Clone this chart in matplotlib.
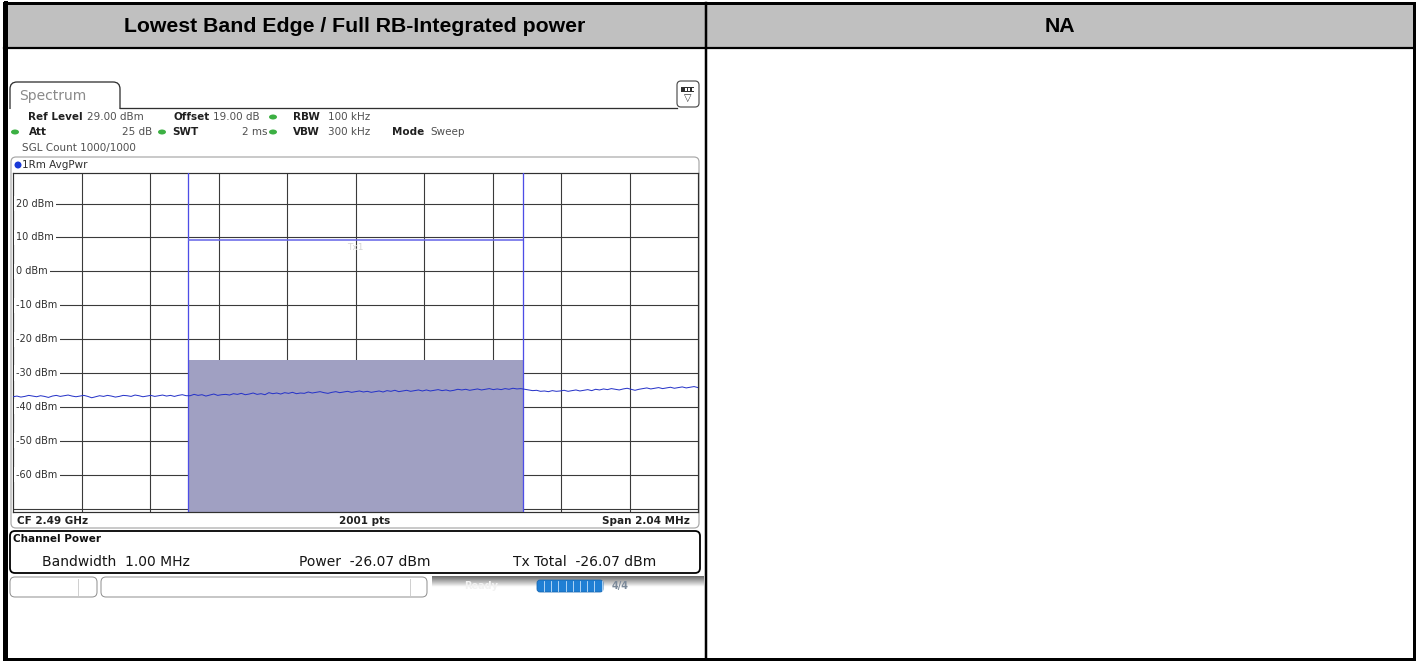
import numpy as np
import matplotlib
matplotlib.use("Agg")
import matplotlib.pyplot as plt
from matplotlib.patches import Rectangle, FancyBboxPatch, Ellipse

# ---------------- data ----------------
header_left = "Lowest Band Edge / Full RB-Integrated power"
header_right = "NA"

ref_level = 29.00
offset_db = 19.00
rbw = "100 kHz"
vbw = "300 kHz"
att = "25 dB"
swt = "2 ms"
sgl_count = "1000/1000"
center_freq = "CF 2.49 GHz"
sweep_points = "2001 pts"
span_mhz = 2.04
bandwidth_mhz = 1.00
channel_power = -26.07
tx_total = -26.07
tx_limit_level = 9.2

level_ticks = [20, 10, 0, -10, -20, -30, -40, -50, -60]
grid_levels = [20, 10, 0, -10, -20, -30, -40, -50, -60, -70]
y_bottom = -71

trace_left = [-37.0, -36.8, -37.1, -36.9, -36.6, -36.8, -37.0, -36.7, -36.9, -37.2,
              -36.8, -36.6, -36.9, -36.7, -36.5, -36.8, -37.0, -36.8, -36.6, -36.9,
              -37.3, -37.0, -36.7, -36.9, -36.6, -36.8, -37.1, -36.9, -36.6, -36.7,
              -36.9, -36.5, -36.7, -37.0, -36.8, -36.6, -36.9, -36.7, -36.5, -36.8,
              -36.6, -36.9, -36.6, -36.4, -36.7]
trace_mid = [-36.7, -36.3, -36.6, -36.4, -36.8, -36.5, -36.2, -36.6, -36.4, -36.3,
             -36.5, -36.1, -36.3, -36.0, -36.4, -36.2, -35.9, -36.3, -36.1, -36.4,
             -35.8, -36.1, -35.9, -36.2, -35.8, -36.0, -35.7, -36.1, -35.9, -36.0,
             -35.6, -35.9, -35.7, -35.5, -35.8, -36.0, -35.7, -35.5, -35.8, -35.6,
             -35.4, -35.7, -35.5, -35.3, -35.6, -35.4, -35.7, -35.5, -35.3, -35.6,
             -35.2, -35.4, -35.1, -35.5, -35.3, -35.1, -35.4, -35.2, -35.0, -35.3,
             -35.0, -35.3, -35.1, -34.9, -35.2, -35.0, -35.3, -35.1, -34.8, -35.0,
             -34.8, -35.1, -34.9, -34.7, -35.0, -34.8, -34.6, -34.9, -34.7, -34.9,
             -34.6, -34.8, -34.5, -34.7, -34.6]
trace_right = [-34.8, -35.0, -35.2, -35.1, -35.4, -35.3, -35.5, -35.2, -35.4, -35.3,
               -35.1, -35.4, -35.2, -35.0, -35.3, -35.1, -34.9, -35.2, -34.8, -35.0,
               -34.7, -34.9, -34.6, -34.8, -35.0, -34.7, -34.5, -34.8, -35.1, -34.8,
               -34.6, -34.4, -34.7, -34.5, -34.3, -34.6, -34.4, -34.2, -34.5, -34.3,
               -34.1, -34.4, -34.2, -34.0, -34.3]

# ---------------- figure ----------------
W, H = 1418, 662
fig = plt.figure(figsize=(W / 100, H / 100), dpi=100)
bg = fig.add_axes([0, 0, 1, 1])
bg.set_xlim(0, W)
bg.set_ylim(H, 0)
bg.axis("off")
PX = 0.72  # points per pixel

# table
bg.add_patch(Rectangle((4, 3), W - 8, 45, facecolor="#c0c0c0", edgecolor="none", zorder=0))
bg.add_patch(Rectangle((4, 3), W - 8, H - 6, facecolor="none", edgecolor="black",
                       lw=3 * PX, zorder=10))
bg.plot([5.5, 5.5], [3, H - 3], color="black", lw=4 * PX, zorder=10)
bg.plot([4, W - 4], [48, 48], color="black", lw=2.2 * PX, zorder=10)
bg.plot([706, 706], [3, H - 3], color="black", lw=2.5 * PX, zorder=10)
bg.text(355, 26, header_left, ha="center", va="center", fontsize=15.3,
        fontweight="bold", family="Liberation Sans", color="black")
bg.text(1060, 26, header_right, ha="center", va="center", fontsize=15.3,
        fontweight="bold", family="Liberation Sans", color="black")

# ----- screenshot chrome -----
fs = 7.5
dark = "#202020"
mid = "#505050"
green = "#3cb043"

# tab
bg.add_patch(FancyBboxPatch((10, 82), 110, 34, boxstyle="round,pad=0,rounding_size=7",
                            facecolor="white", edgecolor="#303030", lw=1.3 * PX, zorder=2))
bg.add_patch(Rectangle((8, 108.6), 120, 10, facecolor="white", edgecolor="none", zorder=3))
bg.plot([120, 677], [108, 108], color="#303030", lw=1.3 * PX, zorder=3)
bg.text(19, 96, "Spectrum", fontsize=10, color="#8a8a8a", va="center", ha="left", zorder=4)

# icon top right
bg.add_patch(FancyBboxPatch((677, 81), 22, 26, boxstyle="round,pad=0,rounding_size=4",
                            facecolor="white", edgecolor="#505050", lw=1.2 * PX, zorder=4))
bg.add_patch(Rectangle((681, 87), 13, 5, facecolor="#303030", edgecolor="none", zorder=5))
for xx in (684.5, 688, 691.5):
    bg.add_patch(Rectangle((xx, 88.2), 2, 2.6, facecolor="white", edgecolor="none", zorder=6))
bg.text(687.5, 98, "▽", fontsize=7, ha="center", va="center", color="#303030", zorder=6)

# info lines
def t(x, y, s, bold=False, ha="left", color=None, size=fs):
    bg.text(x, y, s, fontsize=size, ha=ha, va="center",
            fontweight="bold" if bold else "normal",
            color=color if color else (dark if bold else mid), zorder=5)

def dot(x, y, c=green, w=8, h=5):
    bg.add_patch(Ellipse((x, y), w, h, facecolor=c, edgecolor="none", zorder=5))

t(28, 117, "Ref Level", bold=True)
t(87, 117, f"{ref_level:.2f} dBm")
t(173, 117, "Offset", bold=True)
t(213, 117, f"{offset_db:.2f} dB")
dot(273, 117)
t(293, 117, "RBW", bold=True)
t(328, 117, rbw)

dot(15, 132)
t(29, 132, "Att", bold=True)
t(152, 132, att, ha="right")
dot(162, 132)
t(172, 132, "SWT", bold=True)
t(267, 132, swt, ha="right")
dot(273, 132)
t(293, 132, "VBW", bold=True)
t(328, 132, vbw)
t(392, 132, "Mode", bold=True)
t(430, 132, "Sweep")

t(22, 148, f"SGL Count {sgl_count}")

# trace box
bg.add_patch(FancyBboxPatch((11, 157), 688, 371, boxstyle="round,pad=0,rounding_size=5",
                            facecolor="white", edgecolor="#a8a8a8", lw=1.2 * PX, zorder=1))
dot(18, 165, c="#1a3ad8", w=7, h=7)
t(22, 165, "1Rm AvgPwr", color="#303030")

# bottom strip
t(17, 521, center_freq, bold=True)
t(365, 521, sweep_points, bold=True, ha="center")
t(690, 521, f"Span {span_mhz:.2f} MHz", bold=True, ha="right")

# channel power box
bg.add_patch(FancyBboxPatch((10, 531), 690, 42, boxstyle="round,pad=0,rounding_size=5",
                            facecolor="white", edgecolor="black", lw=1.8 * PX, zorder=2))
t(13, 539, "Channel Power", bold=True, color="#101010")
t(42, 562, f"Bandwidth  {bandwidth_mhz:.2f} MHz", color="#151515", size=10)
t(299, 562, f"Power  {channel_power:.2f} dBm", color="#151515", size=10)
t(513, 562, f"Tx Total  {tx_total:.2f} dBm", color="#151515", size=10)

# status bar
grad = np.clip(np.linspace(0.42, 1.6, 40), 0, 1)[:, None] * np.ones((1, 10))
bg.imshow(grad, cmap="gray", vmin=0, vmax=1.0, extent=[432, 704, 598, 576],
          aspect="auto", zorder=1, interpolation="bilinear")
bg.add_patch(FancyBboxPatch((10, 577), 87, 20, boxstyle="round,pad=0,rounding_size=5",
                            facecolor="white", edgecolor="#909090", lw=1 * PX, zorder=2))
bg.plot([78, 78], [579, 595], color="#d0d0d0", lw=1 * PX, zorder=3)
bg.add_patch(FancyBboxPatch((101, 577), 326, 20, boxstyle="round,pad=0,rounding_size=5",
                            facecolor="white", edgecolor="#909090", lw=1 * PX, zorder=2))
bg.plot([410, 410], [579, 595], color="#d0d0d0", lw=1 * PX, zorder=3)
t(481, 586, "Ready", bold=True, color="#f2f2f2", ha="center", size=7)
bg.add_patch(FancyBboxPatch((537, 580), 66, 12, boxstyle="round,pad=0,rounding_size=3",
                            facecolor="#1f7fd4", edgecolor="#1766b0", lw=0.8 * PX, zorder=3))
for xx in np.arange(544, 603, 7.2):
    bg.plot([xx, xx], [581, 591], color="#cfe6fb", lw=0.8 * PX, zorder=4)
t(620, 586, "4/4", bold=True, color="#7a8898", ha="center", size=7)

# ----- spectrum axes -----
x0, x1, y0, y1 = 13, 698, 173, 512
ax = fig.add_axes([x0 / W, 1 - y1 / H, (x1 - x0) / W, (y1 - y0) / H])
half = span_mhz / 2
ax.set_xlim(-half, half)
ax.set_ylim(y_bottom, ref_level)
ax.set_xticks([])
ax.set_yticks([])
for s in ax.spines.values():
    s.set_color("#303030")
    s.set_linewidth(1.2 * PX)

gcol = "#3a3a3a"
for lv in grid_levels:
    ax.axhline(lv, color=gcol, lw=1.1 * PX, zorder=1)
for k in range(1, 10):
    ax.axvline(-half + k * span_mhz / 10, color=gcol, lw=1.1 * PX, zorder=1)

for lv in level_ticks:
    ax.text(0.0045, lv, f"{lv} dBm", transform=ax.get_yaxis_transform(), fontsize=7,
            color="#303030", va="center", ha="left", zorder=6,
            bbox=dict(facecolor="white", edgecolor="none", pad=1.8))

bw2 = bandwidth_mhz / 2
ax.fill_between([-bw2, bw2], y_bottom, channel_power, color="#a0a0c2", zorder=2, lw=0)
ax.axvline(-bw2, color="#4d4de6", lw=1.3 * PX, zorder=3)
ax.axvline(bw2, color="#4d4de6", lw=1.3 * PX, zorder=3)
ax.hlines(tx_limit_level, -bw2, bw2, color="#6a6ae8", lw=1.6 * PX, zorder=3)
ax.text(0.0, tx_limit_level - 2.1, "Tx1", fontsize=6.5, color="#d4d4d4",
        ha="center", va="center", zorder=3)

trace = trace_left + trace_mid + trace_right
freqs = np.linspace(-half, half, len(trace))
ax.plot(freqs, trace, color="#2633c8", lw=1.0 * PX, zorder=4)

fig.savefig("out.png", dpi=100)
